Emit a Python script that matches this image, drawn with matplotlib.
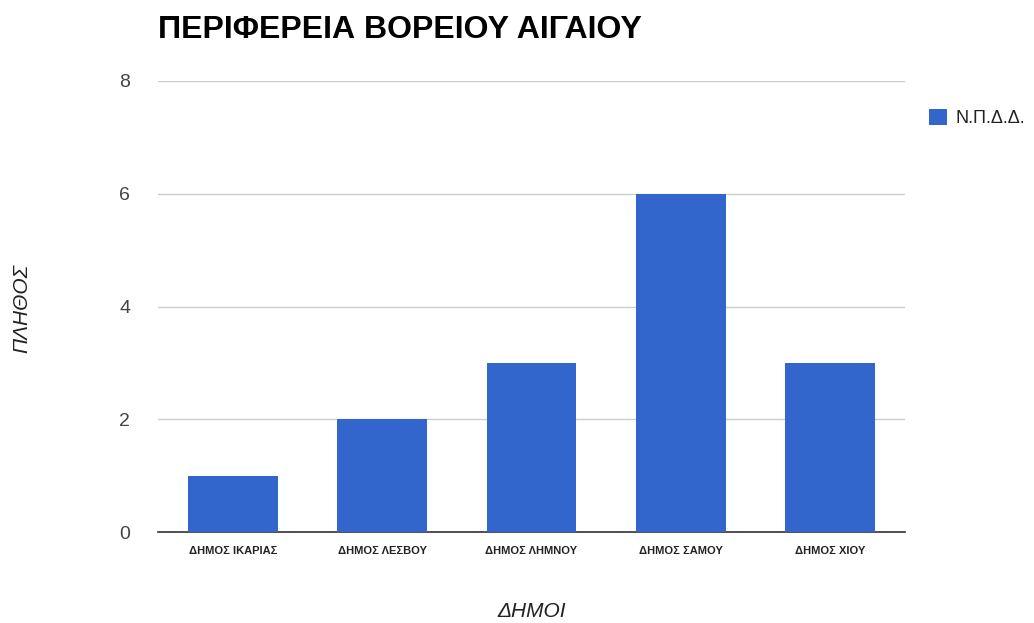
import matplotlib
matplotlib.use("Agg")
import matplotlib.pyplot as plt
import numpy as np

plt.rcParams['font.family'] = ['Liberation Sans', 'DejaVu Sans']

dimoi = ['ΔΗΜΟΣ ΙΚΑΡΙΑΣ', 'ΔΗΜΟΣ ΛΕΣΒΟΥ', 'ΔΗΜΟΣ ΛΗΜΝΟΥ', 'ΔΗΜΟΣ ΣΑΜΟΥ', 'ΔΗΜΟΣ ΧΙΟΥ']
npdd = [1, 2, 3, 6, 3]

fig = plt.figure(figsize=(10.34, 6.23), dpi=100)
ax = fig.add_axes([0.1528, 0.146, 0.7224, 0.724])

x = np.arange(len(dimoi))
ax.bar(x, npdd, width=0.6, color='#3366CC', label='Ν.Π.Δ.Δ.', zorder=3)

ax.set_xlim(-0.5, 4.5)
ax.set_ylim(0, 8)
ax.set_yticks([0, 2, 4, 6, 8])
ax.yaxis.grid(True, color='#cccccc', linewidth=1, zorder=0)
for s in ['top', 'right', 'left']:
    ax.spines[s].set_visible(False)
ax.spines['bottom'].set_color('#333333')
ax.spines['bottom'].set_linewidth(1.2)
ax.tick_params(axis='both', length=0)
ax.tick_params(axis='y', labelsize=14, labelcolor='#444444', pad=20)
ax.set_xticks(x)
ax.set_xticklabels(dimoi, fontsize=8, fontweight='bold', color='#222222')
ax.tick_params(axis='x', pad=10)

fig.text(0.514, 0.018, 'ΔΗΜΟΙ', fontsize=15, style='italic', color='#222222',
         ha='center', va='center')
fig.text(0.021, 0.505, 'ΠΛΗΘΟΣ', fontsize=15, style='italic', color='#222222',
         ha='center', va='center', rotation=90)

fig.text(0.1528, 0.952, 'ΠΕΡΙΦΕΡΕΙΑ ΒΟΡΕΙΟΥ ΑΙΓΑΙΟΥ', fontsize=23, fontweight='bold',
         ha='left', va='center')

ax.legend(loc='upper left', bbox_to_anchor=(1.01, 0.975), frameon=False,
          fontsize=13, handlelength=1.0, handleheight=1.0, handletextpad=0.5,
          labelcolor='#222222')

fig.savefig('out.png', dpi=100)
